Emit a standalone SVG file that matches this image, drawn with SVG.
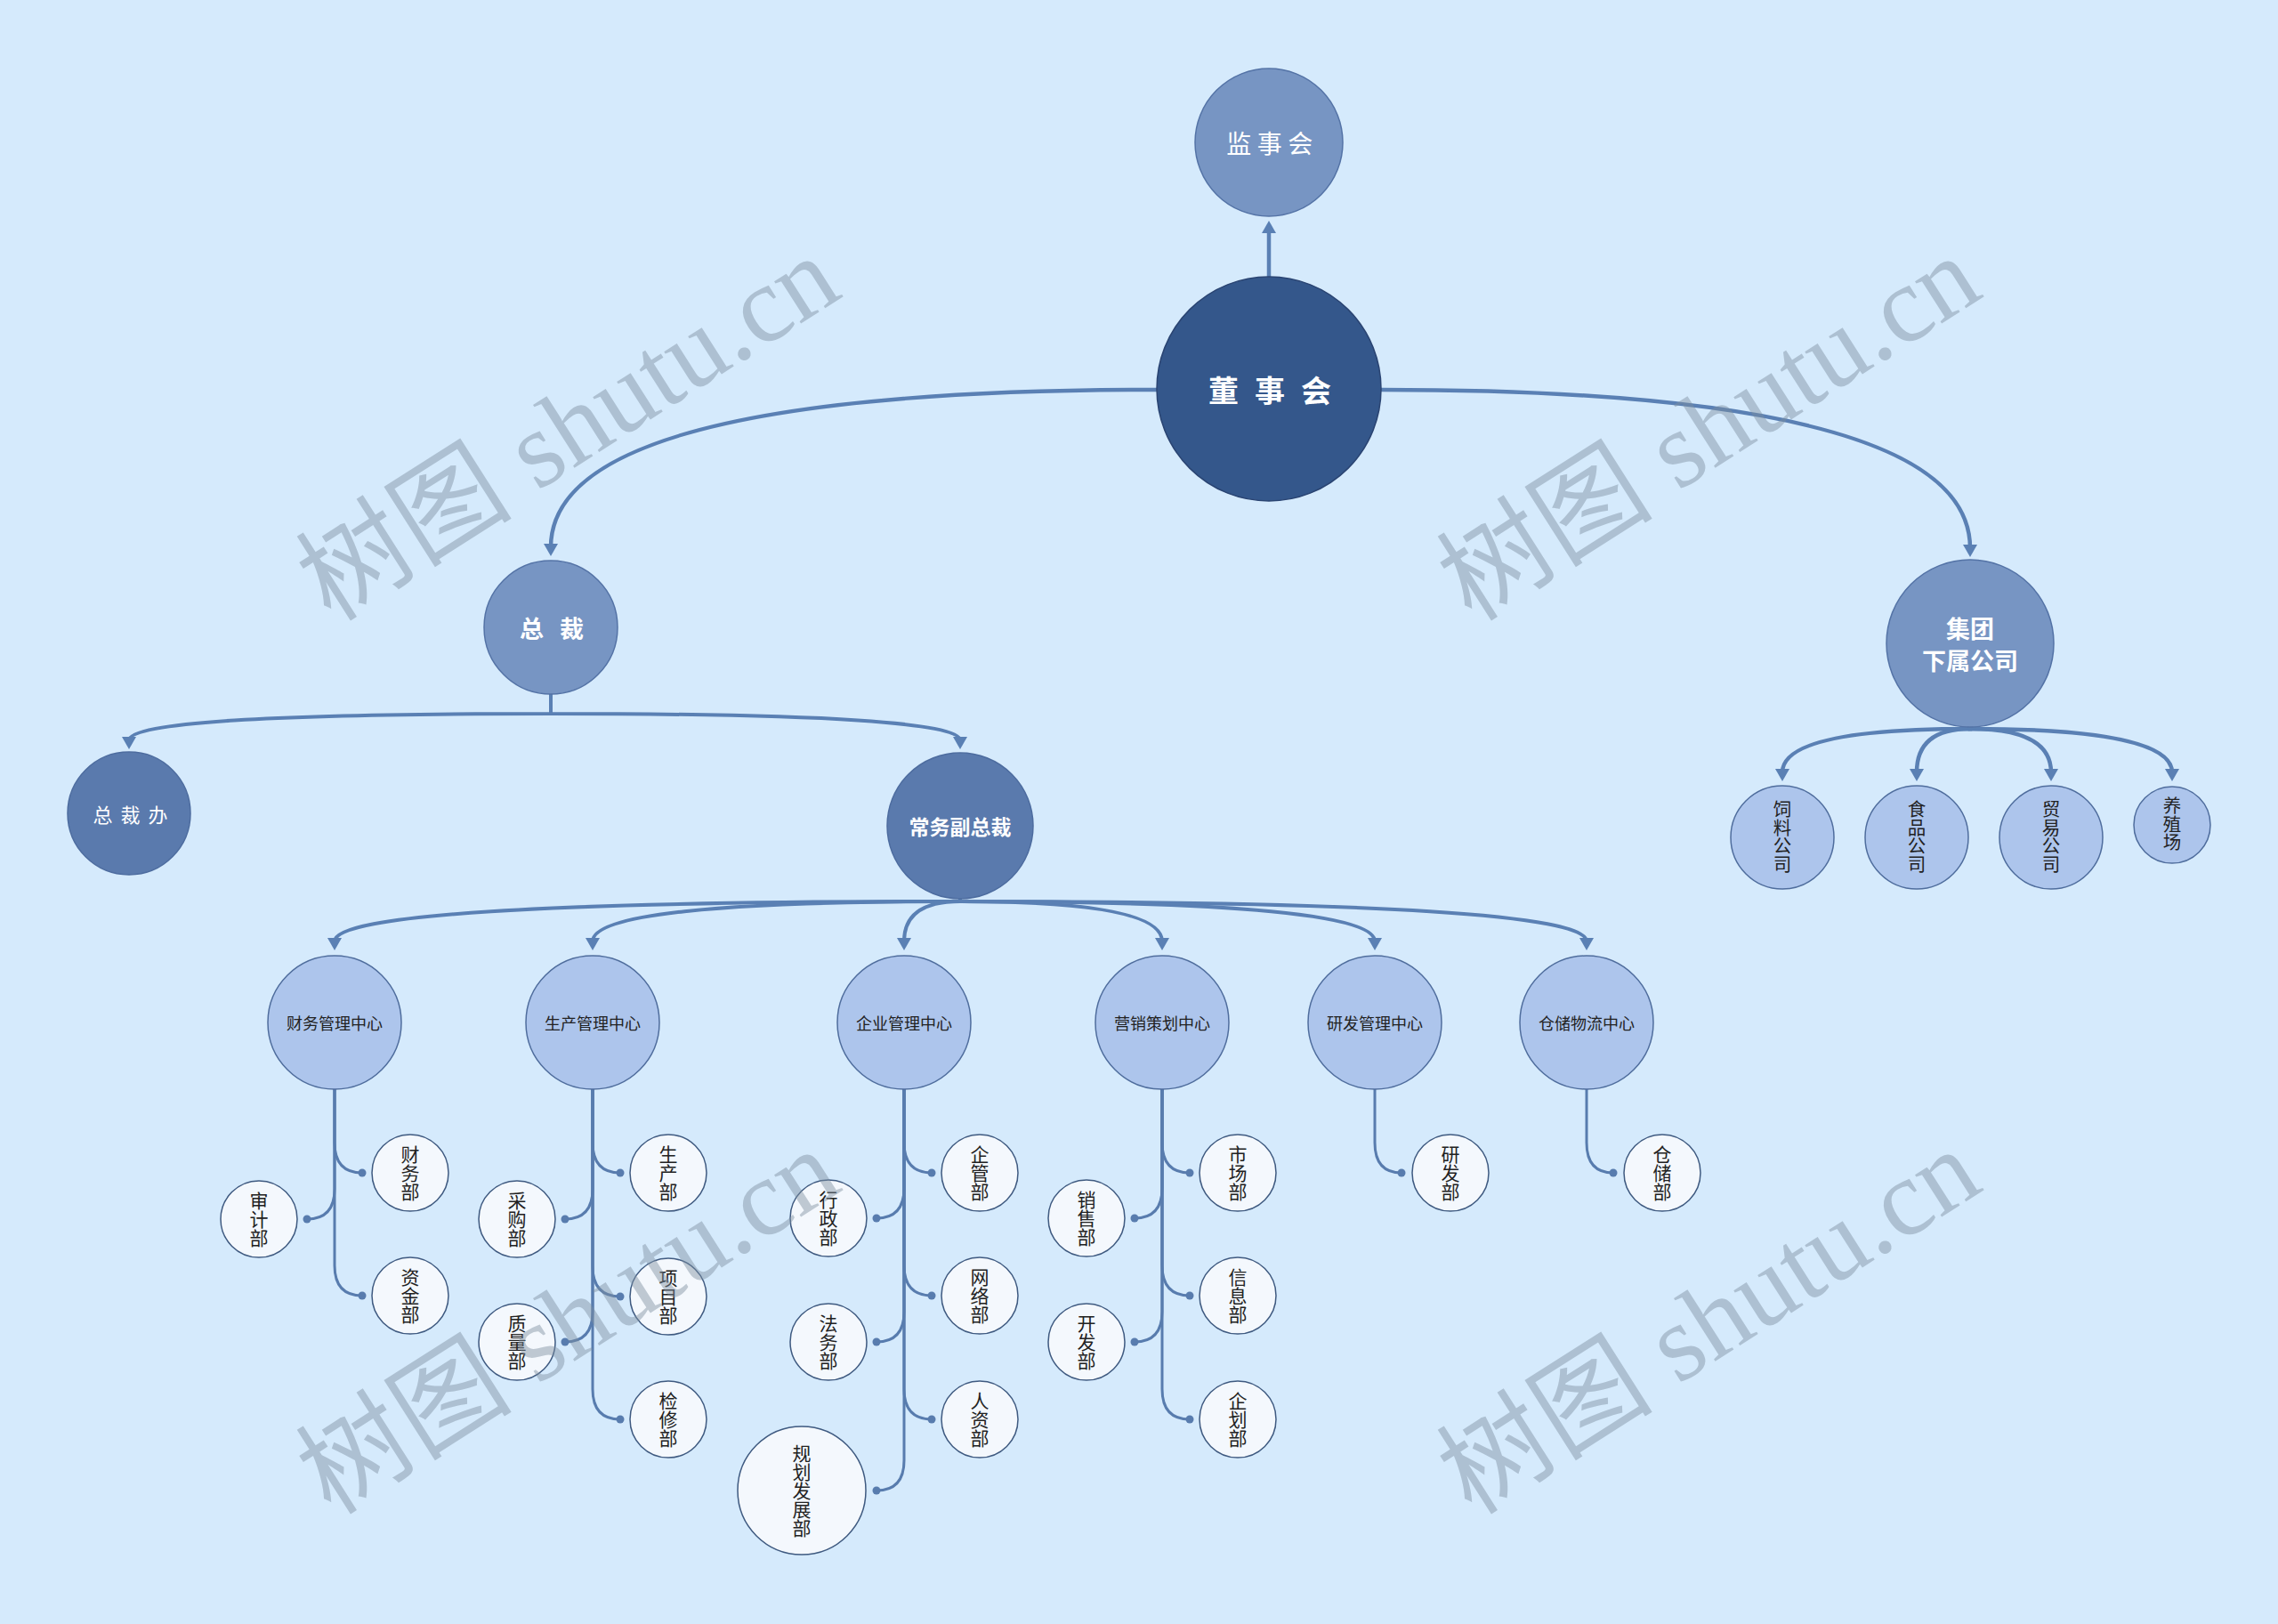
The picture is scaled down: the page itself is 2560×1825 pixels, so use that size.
<svg xmlns="http://www.w3.org/2000/svg" width="2560" height="1825" viewBox="0 0 2560 1825">
<defs>
<style>
.cn{font-family:"Noto Sans CJK SC","Noto Sans",sans-serif;}
.w{fill:#ffffff;}
.b{font-weight:bold;}
.dk{fill:#222222;}
.v{writing-mode:vertical-rl;text-anchor:middle;font-family:"Noto Sans CJK SC","Noto Sans",sans-serif;fill:#222222;}
.lvl0{fill:#34578b;stroke:#2a4472;stroke-width:1.5;}
.lvl1{fill:#7795c3;stroke:#5473a6;stroke-width:1.5;}
.lvl2{fill:#5a7aad;stroke:#4d6c9f;stroke-width:1.5;}
.lvl3{fill:#adc5ec;stroke:#4f6d9d;stroke-width:1.5;}
.dept{fill:#f4f8fd;stroke:#3f5a80;stroke-width:1.5;}
.con{fill:none;stroke:#5a80b4;stroke-width:4.5;}
.con2{fill:none;stroke:#5a80b4;stroke-width:4;}
.br{fill:none;stroke:#587cae;stroke-width:3;}
.dot{fill:#587cae;}
.wm{font-family:"Liberation Serif","Noto Sans CJK SC",serif;font-size:122px;fill:#7d8fa0;opacity:0.45;}
</style>
<marker id="arr" viewBox="0 0 14 16" refX="4" refY="8" markerWidth="14" markerHeight="16" markerUnits="userSpaceOnUse" orient="auto">
<path d="M0,0 L14,8 L0,16 z" fill="#5a80b4"/>
</marker>
</defs>
<rect x="0" y="0" width="2560" height="1825" fill="#d5eafc"/>

<g id="connectors">
<path class="con" d="M1426 311 V258" marker-end="url(#arr)"/>
<path class="con" d="M1300 438 Q619 438 619 615" marker-end="url(#arr)"/>
<path class="con" d="M1552 438 Q2214 438 2214 616" marker-end="url(#arr)"/>
<path class="con2" d="M619 780 V802 Q145 802 145 832" marker-end="url(#arr)"/>
<path class="con2" d="M619 780 V802 Q1079 802 1079 832" marker-end="url(#arr)"/>
<path class="con2" d="M1079 1010 V1013 Q376 1013 376 1058" marker-end="url(#arr)"/>
<path class="con2" d="M1079 1010 V1013 Q666 1013 666 1058" marker-end="url(#arr)"/>
<path class="con2" d="M1079 1010 V1013 Q1016 1013 1016 1058" marker-end="url(#arr)"/>
<path class="con2" d="M1079 1010 V1013 Q1306 1013 1306 1058" marker-end="url(#arr)"/>
<path class="con2" d="M1079 1010 V1013 Q1545 1013 1545 1058" marker-end="url(#arr)"/>
<path class="con2" d="M1079 1010 V1013 Q1783 1013 1783 1058" marker-end="url(#arr)"/>
<path class="con" d="M2214 816 V819 Q2003 819 2003 868" marker-end="url(#arr)"/>
<path class="con" d="M2214 816 V819 Q2154 819 2154 868" marker-end="url(#arr)"/>
<path class="con" d="M2214 816 V819 Q2305 819 2305 868" marker-end="url(#arr)"/>
<path class="con" d="M2214 816 V819 Q2441 819 2441 868" marker-end="url(#arr)"/>
<path class="br" d="M376 1224 V1284 Q376 1318 407 1318"/>
<path class="br" d="M376 1224 V1336 Q376 1370 345 1370"/>
<path class="br" d="M376 1224 V1422 Q376 1456 407 1456"/>
<path class="br" d="M666 1224 V1284 Q666 1318 697 1318"/>
<path class="br" d="M666 1224 V1336 Q666 1370 635 1370"/>
<path class="br" d="M666 1224 V1423 Q666 1457 697 1457"/>
<path class="br" d="M666 1224 V1474 Q666 1508 635 1508"/>
<path class="br" d="M666 1224 V1561 Q666 1595 697 1595"/>
<path class="br" d="M1016 1224 V1284 Q1016 1318 1047 1318"/>
<path class="br" d="M1016 1224 V1335 Q1016 1369 985 1369"/>
<path class="br" d="M1016 1224 V1422 Q1016 1456 1047 1456"/>
<path class="br" d="M1016 1224 V1474 Q1016 1508 985 1508"/>
<path class="br" d="M1016 1224 V1561 Q1016 1595 1047 1595"/>
<path class="br" d="M1016 1224 V1641 Q1016 1675 985 1675"/>
<path class="br" d="M1306 1224 V1284 Q1306 1318 1337 1318"/>
<path class="br" d="M1306 1224 V1335 Q1306 1369 1275 1369"/>
<path class="br" d="M1306 1224 V1422 Q1306 1456 1337 1456"/>
<path class="br" d="M1306 1224 V1474 Q1306 1508 1275 1508"/>
<path class="br" d="M1306 1224 V1561 Q1306 1595 1337 1595"/>
<path class="br" d="M1545 1224 V1284 Q1545 1318 1575 1318"/>
<path class="br" d="M1783 1224 V1284 Q1783 1318 1813 1318"/>
<g>
<circle class="dot" cx="407" cy="1318" r="4.5"/><circle class="dot" cx="345" cy="1370" r="4.5"/><circle class="dot" cx="407" cy="1456" r="4.5"/>
<circle class="dot" cx="697" cy="1318" r="4.5"/><circle class="dot" cx="635" cy="1370" r="4.5"/><circle class="dot" cx="697" cy="1457" r="4.5"/><circle class="dot" cx="635" cy="1508" r="4.5"/><circle class="dot" cx="697" cy="1595" r="4.5"/>
<circle class="dot" cx="1047" cy="1318" r="4.5"/><circle class="dot" cx="985" cy="1369" r="4.5"/><circle class="dot" cx="1047" cy="1456" r="4.5"/><circle class="dot" cx="985" cy="1508" r="4.5"/><circle class="dot" cx="1047" cy="1595" r="4.5"/><circle class="dot" cx="985" cy="1675" r="4.5"/>
<circle class="dot" cx="1337" cy="1318" r="4.5"/><circle class="dot" cx="1275" cy="1369" r="4.5"/><circle class="dot" cx="1337" cy="1456" r="4.5"/><circle class="dot" cx="1275" cy="1508" r="4.5"/><circle class="dot" cx="1337" cy="1595" r="4.5"/>
<circle class="dot" cx="1575" cy="1318" r="4.5"/><circle class="dot" cx="1813" cy="1318" r="4.5"/>
</g>
</g>

<g id="n-jianshihui"><circle class="lvl1" cx="1426" cy="160" r="83"/>
<text class="cn w" font-size="28" letter-spacing="6.5" text-anchor="middle" dominant-baseline="central" x="1430" y="160">监事会</text></g>
<g id="n-dongshihui"><circle class="lvl0" cx="1426" cy="437" r="126"/>
<text class="cn w b" font-size="34" letter-spacing="18" text-anchor="middle" dominant-baseline="central" x="1436" y="437">董事会</text></g>
<g id="n-zongcai"><circle class="lvl1" cx="619" cy="705" r="75"/>
<text class="cn w b" font-size="27" letter-spacing="18" text-anchor="middle" dominant-baseline="central" x="629" y="705">总裁</text></g>
<g id="n-jituan"><circle class="lvl1" cx="2214" cy="723" r="94"/>
<text class="cn w b" font-size="27" text-anchor="middle" dominant-baseline="central"><tspan x="2214" y="705">集团</tspan><tspan x="2214" y="741">下属公司</tspan></text></g>
<g id="n-zongcaiban"><circle class="lvl2" cx="145" cy="914" r="69"/>
<text class="cn w" font-size="22" letter-spacing="9" text-anchor="middle" dominant-baseline="central" x="151" y="914">总裁办</text></g>
<g id="n-changwu"><circle class="lvl2" cx="1079" cy="928" r="82"/>
<text class="cn w b" font-size="23" text-anchor="middle" dominant-baseline="central" x="1079" y="928">常务副总裁</text></g>

<g id="n-caiwuzx"><circle class="lvl3" cx="376" cy="1149" r="75"/><text class="cn dk" font-size="18" text-anchor="middle" dominant-baseline="central" x="376" y="1149">财务管理中心</text></g>
<g id="n-shengchanzx"><circle class="lvl3" cx="666" cy="1149" r="75"/><text class="cn dk" font-size="18" text-anchor="middle" dominant-baseline="central" x="666" y="1149">生产管理中心</text></g>
<g id="n-qiyezx"><circle class="lvl3" cx="1016" cy="1149" r="75"/><text class="cn dk" font-size="18" text-anchor="middle" dominant-baseline="central" x="1016" y="1149">企业管理中心</text></g>
<g id="n-yingxiaozx"><circle class="lvl3" cx="1306" cy="1149" r="75"/><text class="cn dk" font-size="18" text-anchor="middle" dominant-baseline="central" x="1306" y="1149">营销策划中心</text></g>
<g id="n-yanfazx"><circle class="lvl3" cx="1545" cy="1149" r="75"/><text class="cn dk" font-size="18" text-anchor="middle" dominant-baseline="central" x="1545" y="1149">研发管理中心</text></g>
<g id="n-cangchuzx"><circle class="lvl3" cx="1783" cy="1149" r="75"/><text class="cn dk" font-size="18" text-anchor="middle" dominant-baseline="central" x="1783" y="1149">仓储物流中心</text></g>

<g id="n-siliao"><circle class="lvl3" cx="2003" cy="941" r="58"/><text class="v" font-size="20.5" x="2003" y="940">饲料公司</text></g>
<g id="n-shipin"><circle class="lvl3" cx="2154" cy="941" r="58"/><text class="v" font-size="20.5" x="2154" y="940">食品公司</text></g>
<g id="n-maoyi"><circle class="lvl3" cx="2305" cy="941" r="58"/><text class="v" font-size="20.5" x="2305" y="940">贸易公司</text></g>
<g id="n-yangzhi"><circle class="lvl3" cx="2441" cy="927" r="43"/><text class="v" font-size="20.5" x="2441" y="926">养殖场</text></g>

<g id="n-caiwubu"><circle class="dept" cx="461" cy="1318" r="43"/><text class="v" font-size="21" x="461" y="1318">财务部</text></g>
<g id="n-shenjibu"><circle class="dept" cx="291" cy="1370" r="43"/><text class="v" font-size="21" x="291" y="1370">审计部</text></g>
<g id="n-zijinbu"><circle class="dept" cx="461" cy="1456" r="43"/><text class="v" font-size="21" x="461" y="1456">资金部</text></g>

<g id="n-shengchanbu"><circle class="dept" cx="751" cy="1318" r="43"/><text class="v" font-size="21" x="751" y="1318">生产部</text></g>
<g id="n-caigoubu"><circle class="dept" cx="581" cy="1370" r="43"/><text class="v" font-size="21" x="581" y="1370">采购部</text></g>
<g id="n-xiangmubu"><circle class="dept" cx="751" cy="1457" r="43"/><text class="v" font-size="21" x="751" y="1457">项目部</text></g>
<g id="n-zhiliangbu"><circle class="dept" cx="581" cy="1508" r="43"/><text class="v" font-size="21" x="581" y="1508">质量部</text></g>
<g id="n-jianxiubu"><circle class="dept" cx="751" cy="1595" r="43"/><text class="v" font-size="21" x="751" y="1595">检修部</text></g>

<g id="n-qiguanbu"><circle class="dept" cx="1101" cy="1318" r="43"/><text class="v" font-size="21" x="1101" y="1318">企管部</text></g>
<g id="n-xingzhengbu"><circle class="dept" cx="931" cy="1369" r="43"/><text class="v" font-size="21" x="931" y="1369">行政部</text></g>
<g id="n-wangluobu"><circle class="dept" cx="1101" cy="1456" r="43"/><text class="v" font-size="21" x="1101" y="1456">网络部</text></g>
<g id="n-fawubu"><circle class="dept" cx="931" cy="1508" r="43"/><text class="v" font-size="21" x="931" y="1508">法务部</text></g>
<g id="n-renzibu"><circle class="dept" cx="1101" cy="1595" r="43"/><text class="v" font-size="21" x="1101" y="1595">人资部</text></g>
<g id="n-guihuabu"><circle class="dept" cx="901" cy="1675" r="72"/><text class="v" font-size="21" x="901" y="1675">规划发展部</text></g>

<g id="n-shichangbu"><circle class="dept" cx="1391" cy="1318" r="43"/><text class="v" font-size="21" x="1391" y="1318">市场部</text></g>
<g id="n-xiaoshoubu"><circle class="dept" cx="1221" cy="1369" r="43"/><text class="v" font-size="21" x="1221" y="1369">销售部</text></g>
<g id="n-xinxibu"><circle class="dept" cx="1391" cy="1456" r="43"/><text class="v" font-size="21" x="1391" y="1456">信息部</text></g>
<g id="n-kaifabu"><circle class="dept" cx="1221" cy="1508" r="43"/><text class="v" font-size="21" x="1221" y="1508">开发部</text></g>
<g id="n-qihuabu"><circle class="dept" cx="1391" cy="1595" r="43"/><text class="v" font-size="21" x="1391" y="1595">企划部</text></g>

<g id="n-yanfabu"><circle class="dept" cx="1630" cy="1318" r="43"/><text class="v" font-size="21" x="1630" y="1318">研发部</text></g>
<g id="n-cangchubu"><circle class="dept" cx="1868" cy="1318" r="43"/><text class="v" font-size="21" x="1868" y="1318">仓储部</text></g>

<g id="watermarks">
<text class="wm" transform="translate(372,700) rotate(-32.5)">树图 shutu.cn</text>
<text class="wm" transform="translate(1654,700) rotate(-32.5)">树图 shutu.cn</text>
<text class="wm" transform="translate(372,1704) rotate(-32.5)">树图 shutu.cn</text>
<text class="wm" transform="translate(1654,1704) rotate(-32.5)">树图 shutu.cn</text>
</g>
</svg>
